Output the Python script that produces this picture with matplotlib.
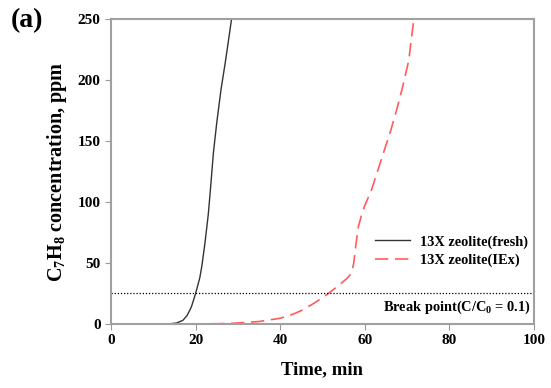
import matplotlib
matplotlib.use("Agg")
import matplotlib.pyplot as plt

# 13X zeolite (fresh) breakthrough curve
fresh_t = [0, 10, 14, 15.5, 17, 18, 19, 20, 21, 21.5, 22.2, 23, 23.5, 24.2, 25, 26, 26.5, 27, 27.8, 28.5]
fresh_c = [0, 0, 0.2, 0.8, 3, 7, 14, 25, 38, 48, 66, 90, 110, 140, 165, 192, 203, 214, 233, 250]

# 13X zeolite (IEx) breakthrough curve
iex_t = [0, 20, 25, 29, 35, 40, 43, 45, 48, 51, 54, 56, 56.9, 57.4, 57.8, 58.5, 59.3, 60, 61.6, 63, 64.4, 66, 67.5, 69, 70.4, 71.6]
iex_c = [0, 0, 0.2, 0.6, 2, 4.7, 8, 11, 17, 24, 32, 38, 42, 50, 62, 80, 90, 97, 110, 125, 140, 157, 175, 195, 216, 250]

break_point = 25
x_ticks = [0, 20, 40, 60, 80, 100]
y_ticks = [0, 50, 100, 150, 200, 250]

plt.rcParams['font.family'] = ['Liberation Serif', 'DejaVu Serif']
plt.rcParams['mathtext.fontset'] = 'custom'
plt.rcParams['mathtext.rm'] = 'Liberation Serif:bold'
plt.rcParams['mathtext.bf'] = 'Liberation Serif:bold'

fig = plt.figure(figsize=(5.51, 3.88), dpi=100)
ax = fig.add_axes([0.2015, 0.165, 0.7675, 0.786])

ax.plot(fresh_t, fresh_c, color='#333333', linewidth=1.0, label='13X zeolite(fresh)')
ax.plot(iex_t, iex_c, color='#ff5c5c', linewidth=1.2, dashes=(8, 4), label='13X zeolite(IEx)')
ax.axhline(break_point, color='black', linestyle=(0, (1, 1.5)), linewidth=0.9)

ax.text(99.3, 21, 'Break point(C/C$_0$ = 0.1)', ha='right', va='top',
        fontsize=10.4, fontweight='bold')

ax.set_xlim(0, 100)
ax.set_ylim(0, 250)
ax.set_xticks(x_ticks)
ax.set_yticks(y_ticks)
ax.tick_params(direction='out', length=4, width=0.8, color='#999999', labelsize=11)
for lab in ax.get_xticklabels() + ax.get_yticklabels():
    lab.set_fontweight('bold')
for sp in ax.spines.values():
    sp.set_color('#a0a0a0')
    sp.set_linewidth(1.5)

ax.set_xlabel('Time, min', fontsize=13.5, fontweight='bold', labelpad=10)
ax.set_ylabel('C$_7$H$_8$ concentration, ppm', fontsize=14.5, fontweight='bold', labelpad=6)

leg = ax.legend(loc='upper right', bbox_to_anchor=(1.0, 0.31), frameon=False,
                fontsize=10.4, handlelength=2.4, handletextpad=0.7,
                labelspacing=0.35, borderaxespad=0.0)
for t in leg.get_texts():
    t.set_fontweight('bold')

fig.text(0.02, 0.93, '(a)', fontsize=20, fontweight='bold')

fig.savefig('out.png', dpi=100)
